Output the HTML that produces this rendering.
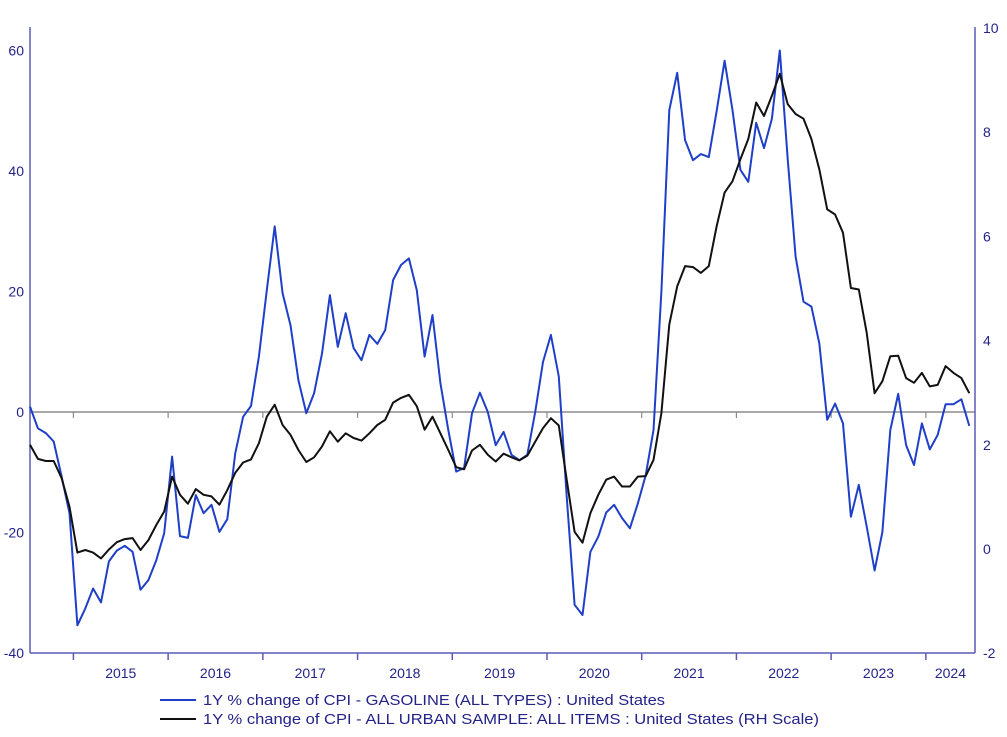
<!DOCTYPE html>
<html><head><meta charset="utf-8"><style>
html,body{margin:0;padding:0;background:#fff;}
svg{display:block;font-family:"Liberation Sans",Arial,sans-serif;}
</style></head><body>
<svg id="chart" width="1007" height="737" viewBox="0 0 1007 737" xmlns="http://www.w3.org/2000/svg"></svg>
<script>
const gasoline = [0.9,-2.7,-3.5,-4.9,-10.7,-16.8,-35.4,-32.6,-29.3,-31.6,-24.8,-23,-22.2,-23.2,-29.5,-27.9,-24.6,-20.1,-7.4,-20.6,-20.9,-13.8,-16.8,-15.4,-19.9,-17.8,-6.9,-0.8,1.0,
9.2,20.2,30.8,19.7,14.4,5.3,-0.2,3.1,9.7,19.4,10.8,16.4,10.6,8.6,12.8,11.3,13.6,21.9,24.4,25.5,20.2,9.2,16.1,4.8,
-3,-9.9,-9.3,-0.2,3.2,0,-5.5,
-3.3,-7.1,-8.0,-7.1,0,8.3,12.8,5.9,-14,-32,-33.7,-23.2,-20.7,-16.7,-15.4,-17.6,-19.3,-15.2,-10.5,-3,20,50.1,56.3,45.1,41.8,42.8,42.3,50,58.3,50.1,40.2,38.2,48,43.8,48.7,60,42,25.8,18.3,17.5,11.4,-1.3,1.4,-1.9,-17.4,-12.1,-19,-26.3,-19.9,-3,3,-5.5,-8.8,-1.9,-6.2,-3.8,1.3,1.3,2.1,-2.3];
const cpiAll = [2.0,1.73,1.69,1.69,1.36,0.81,-0.07,-0.02,-0.07,-0.18,-0.01,0.13,0.19,0.21,-0.02,0.17,0.46,0.72,1.39,1.04,0.87,1.15,1.04,1.01,0.85,1.13,1.46,1.66,1.72,2.03,
2.54,2.77,2.38,2.19,1.90,1.67,1.76,1.97,2.26,2.06,2.22,2.13,2.08,2.22,2.38,2.48,2.81,2.90,2.96,2.74,2.29,2.54,2.22,1.90,1.57,1.53,1.89,2.0,1.81,1.68,
1.83,1.76,1.70,1.79,2.06,2.32,2.51,2.37,1.33,0.33,0.12,0.69,1.04,1.33,1.39,1.20,1.20,1.39,1.40,1.71,2.61,
4.31,5.04,5.43,5.41,5.30,5.43,6.20,6.84,7.06,7.48,7.87,8.57,8.31,8.70,9.12,8.54,8.35,8.26,7.87,7.29,6.52,6.42,6.07,5.01,4.98,4.15,2.99,3.22,3.70,3.71,3.28,3.19,3.38,3.12,3.15,3.51,3.38,3.28,2.99];
const leftTicks = [60,40,20,0,-20,-40];
const rightTicks = [10,8,6,4,2,0,-2];
const yearLabels = ["2015","2016","2017","2018","2019","2020","2021","2022","2023","2024"];
const legendLabels = ["1Y % change of CPI - GASOLINE (ALL TYPES) : United States","1Y % change of CPI - ALL URBAN SAMPLE: ALL ITEMS : United States (RH Scale)"];

const NS="http://www.w3.org/2000/svg";
const svg=document.getElementById('chart');
const X0=30, X1=975, YT=27, YB=653;
const xIdx = i => 30 + i*7.893;
const yL = v => 412 - v*6.025;
const yR = v => 549 - v*52.1;
function mk(tag,attrs,parent){const e=document.createElementNS(NS,tag);for(const k in attrs)e.setAttribute(k,attrs[k]);(parent||svg).appendChild(e);return e;}
const axisCol="#5b5bb5", txtCol="#23238a";

// zero line
let zl=mk('line',{x1:X0,x2:X1,y1:yL(0),y2:yL(0),stroke:'#8c8c8c','stroke-width':1.5});


// axes
let la=mk('line',{x1:X0,x2:X0,y1:YT,y2:YB,stroke:axisCol,'stroke-width':1.5});


let ra=mk('line',{x1:X1,x2:X1,y1:YT,y2:YB,stroke:axisCol,'stroke-width':1.5});


let ba=mk('line',{x1:X0,x2:X1,y1:YB,y2:YB,stroke:axisCol,'stroke-width':1.5});



leftTicks.forEach(v=>{
  const t=mk('text',{x:24,y:yL(v)+5,'text-anchor':'end','font-size':14,fill:txtCol});
  t.textContent=v;
  
  
});
rightTicks.forEach(v=>{
  const t=mk('text',{x:983,y:yR(v)+5,'text-anchor':'start','font-size':14,fill:txtCol});
  t.textContent=v;
  
  
});
// year ticks: Jan of each year, index 5.5 + 12k
for(let k=0;k<yearLabels.length;k++){
  const xt=xIdx(5.5+12*k);
  const tk=mk('line',{x1:xt,x2:xt,y1:YB,y2:YB+7,stroke:axisCol,'stroke-width':1.5});
  
  
  const tz=mk('line',{x1:xt,x2:xt,y1:yL(0),y2:yL(0)+6,stroke:'#8c8c8c','stroke-width':1.2});
  
  
  const xe=Math.min(xIdx(5.5+12*(k+1)),X1);
  const t=mk('text',{x:(xt+xe)/2,y:678,'text-anchor':'middle','font-size':14,fill:txtCol});
  t.textContent=yearLabels[k];
  
  
}
// series
const gp=gasoline.map((v,i)=>xIdx(i).toFixed(1)+','+yL(v).toFixed(1)).join(' ');
const g=mk('polyline',{points:gp,fill:'none',stroke:'#1f3fc8','stroke-width':2,'stroke-linejoin':'round'});


const cp=cpiAll.map((v,i)=>xIdx(i).toFixed(1)+','+yR(v).toFixed(1)).join(' ');
const c=mk('polyline',{points:cp,fill:'none',stroke:'#111','stroke-width':2,'stroke-linejoin':'round'});


// legend
const lc=['#1f3fc8','#111'], lw=[462,616];
legendLabels.forEach((s,i)=>{
  const y=700+i*19;
  const l=mk('line',{x1:160,x2:196,y1:y,y2:y,stroke:lc[i],'stroke-width':2});
  
  
  const t=mk('text',{x:203,y:y+5,'font-size':15,fill:txtCol,textLength:lw[i],lengthAdjust:'spacingAndGlyphs'});
  t.textContent=s;
  
  
});
</script>
</body></html>
